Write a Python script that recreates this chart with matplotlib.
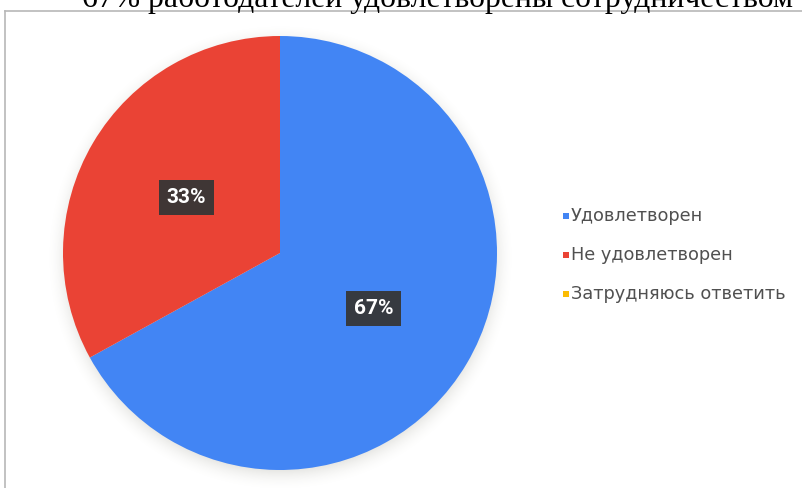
import numpy as np
import matplotlib.pyplot as plt
from matplotlib.patches import Rectangle
from matplotlib.lines import Line2D

# data
labels = ["Удовлетворен", "Не удовлетворен", "Затрудняюсь ответить"]
shares = [67, 33, 0]
colors = ["#4285F4", "#EA4335", "#FBBC04"]
title = "67% работодателей удовлетворены сотрудничеством"

W, H = 802, 488
fig = plt.figure(figsize=(W / 100, H / 100), dpi=100)
fig.patch.set_facecolor("white")


def fx(px):
    return px / W


def fy(py):
    return 1 - py / H


# frame of the embedded chart (cut at the right and bottom)
fig.add_artist(Line2D([fx(5), fx(5)], [fy(11), 0], color="#b8b8b8", lw=1.2))
fig.add_artist(Line2D([fx(5), 1], [fy(11), fy(11)], color="#b8b8b8", lw=1.2))

# pie axes: centre (280, 253) px, radius 217 px
cx, cy, r = 280, 253, 217
ax = fig.add_axes([fx(cx - r), fy(cy + r), 2 * r / W, 2 * r / H])

# soft shadow round the pie
g = np.linspace(-1.25, 1.25, 500)
X, Y = np.meshgrid(g, g)
d = np.hypot(X, Y + 0.02)
alpha = np.clip(1 - (d - 0.98) / 0.1, 0, 1) ** 2 * 0.22
shadow = np.zeros((500, 500, 4))
shadow[..., 0] = 0.55
shadow[..., 1] = 0.55
shadow[..., 2] = 0.5
shadow[..., 3] = alpha
ax.imshow(shadow, extent=(-1.25, 1.25, -1.25, 1.25), origin="lower",
          zorder=0, interpolation="bilinear", clip_on=False)

vals = [v for v in shares if v > 0]
cols = [c for v, c in zip(shares, colors) if v > 0]
wedges, _, autotexts = ax.pie(vals, colors=cols, startangle=90, counterclock=False,
                              radius=1, autopct="%d%%", pctdistance=0.5,
                              wedgeprops=dict(linewidth=0))
for w in wedges:
    w.set_zorder(2)
for t in autotexts:
    t.set_color("white")
    t.set_fontsize(15)
    t.set_fontweight("bold")
    t.set_fontfamily("Roboto")
    t.set_zorder(5)
    t.set_bbox(dict(boxstyle="square,pad=0.38", facecolor="#363636",
                    edgecolor="none", alpha=0.95))

ax.set_xlim(-1, 1)
ax.set_ylim(-1, 1)
ax.set_aspect("equal")
ax.axis("off")

# legend drawn by hand
for i, (lab, c) in enumerate(zip(labels, colors)):
    y = 216 + i * 39
    fig.add_artist(Rectangle((fx(563), fy(y + 3)), 6 / W, 6 / H,
                             facecolor=c, edgecolor="none", transform=fig.transFigure))
    fig.text(fx(571), fy(y), lab, fontsize=12.8, color="#505050",
             ha="left", va="center", family="DejaVu Sans")

# title, cut off at the top edge like the reference
fig.text(fx(437), fy(7), title, fontsize=22.8, family="Liberation Serif",
         color="black", ha="center", va="baseline")

fig.savefig("out.png", dpi=100)
